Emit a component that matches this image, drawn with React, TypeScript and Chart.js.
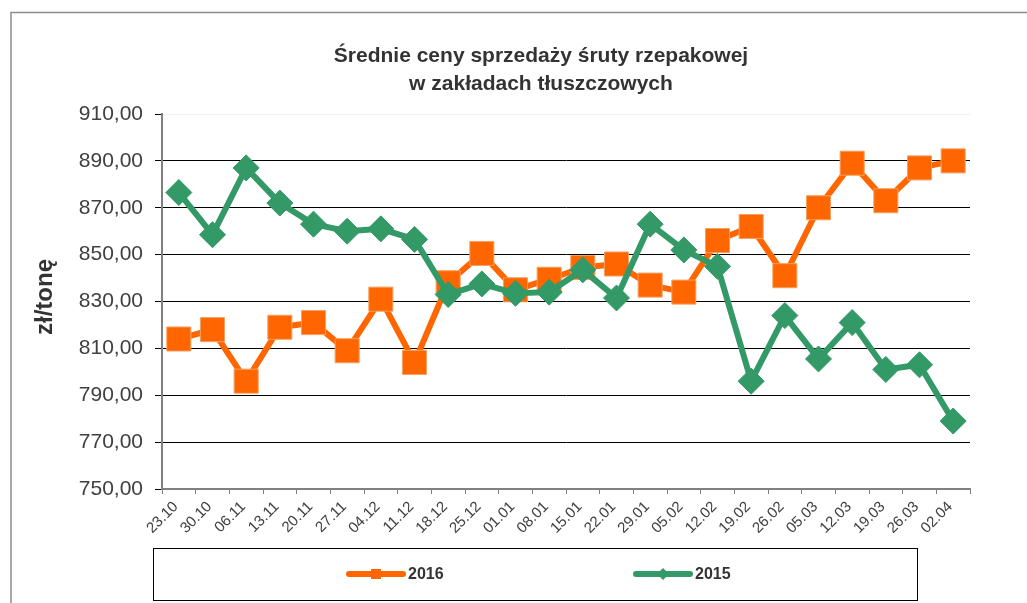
import React, { useEffect, useRef } from 'react';
import { Chart, registerables } from 'chart.js';

Chart.register(...registerables);

const categories = [
  '23.10', '30.10', '06.11', '13.11', '20.11', '27.11', '04.12', '11.12',
  '18.12', '25.12', '01.01', '08.01', '15.01', '22.01', '29.01', '05.02',
  '12.02', '19.02', '26.02', '05.03', '12.03', '19.03', '26.03', '02.04',
];

const seriesNames = ['2016', '2015'];

const values2016 = [
  814, 818, 796, 819, 821, 809, 831, 804,
  838, 850.5, 835, 839.5, 844.5, 846, 837, 834,
  856, 862, 841, 870, 889, 873, 887, 890,
];

const values2015 = [
  876.5, 858.5, 887, 872, 863, 860, 861, 856.5,
  833, 837.5, 833.5, 834, 843.5, 831.5, 863, 852,
  845, 796, 824, 805.5, 821, 801, 803, 779,
];

const yMin = 750;
const yMax = 910;
const yStep = 20;

const titleLines = ['Średnie ceny sprzedaży śruty rzepakowej', 'w zakładach tłuszczowych'];
const yAxisTitle = 'zł/tonę';

const ORANGE = '#FF6600';
const GREEN = '#339966';
const FONT = '"Liberation Sans", Arial, sans-serif';

export default function App() {
  const ref = useRef<HTMLCanvasElement>(null);

  useEffect(() => {
    if (!ref.current) return;

    const decor = {
      id: 'decor',
      beforeDraw(chart: any) {
        const ctx = chart.ctx as CanvasRenderingContext2D;
        ctx.save();
        ctx.fillStyle = '#ffffff';
        ctx.fillRect(0, 0, chart.width, chart.height);
        // outer frame
        ctx.strokeStyle = '#8c8c8c';
        ctx.lineWidth = 1.5;
        ctx.beginPath();
        ctx.moveTo(11, 603);
        ctx.lineTo(11, 12.5);
        ctx.lineTo(1027, 12.5);
        ctx.stroke();
        // title
        ctx.fillStyle = '#333333';
        ctx.textAlign = 'center';
        ctx.textBaseline = 'middle';
        ctx.font = `bold 21px ${FONT}`;
        ctx.fillText(titleLines[0], 541, 56);
        ctx.fillText(titleLines[1], 541, 84);
        // y axis title
        ctx.translate(45, 297);
        ctx.rotate(-Math.PI / 2);
        ctx.font = `bold 24px ${FONT}`;
        ctx.fillText(yAxisTitle, 0, 0);
        ctx.restore();
      },
      afterDraw(chart: any) {
        const ctx = chart.ctx as CanvasRenderingContext2D;
        ctx.save();
        // legend box
        ctx.strokeStyle = '#000000';
        ctx.lineWidth = 1;
        ctx.strokeRect(153.5, 548.5, 764, 52);
        const items = [
          { x: 349, ds: chart.data.datasets[0] },
          { x: 636, ds: chart.data.datasets[1] },
        ];
        const cy = 574;
        items.forEach(({ x, ds }) => {
          ctx.strokeStyle = ds.borderColor;
          ctx.lineWidth = 6;
          ctx.lineCap = 'round';
          ctx.beginPath();
          ctx.moveTo(x, cy);
          ctx.lineTo(x + 54, cy);
          ctx.stroke();
          ctx.fillStyle = ds.pointBackgroundColor;
          const mx = x + 27;
          if (ds.pointStyle === 'rect') {
            ctx.fillRect(mx - 5, cy - 5, 10, 10);
          } else {
            ctx.beginPath();
            ctx.moveTo(mx, cy - 6);
            ctx.lineTo(mx + 6, cy);
            ctx.lineTo(mx, cy + 6);
            ctx.lineTo(mx - 6, cy);
            ctx.closePath();
            ctx.fill();
          }
          ctx.fillStyle = '#333333';
          ctx.font = `bold 16px ${FONT}`;
          ctx.textAlign = 'left';
          ctx.textBaseline = 'middle';
          ctx.fillText(ds.label, x + 59, cy + 1);
        });
        ctx.restore();
      },
    };

    const chart = new Chart(ref.current, {
      type: 'line',
      data: {
        labels: categories,
        datasets: [
          {
            label: seriesNames[0],
            data: values2016,
            borderColor: ORANGE,
            backgroundColor: ORANGE,
            borderWidth: 6,
            borderJoinStyle: 'round',
            pointStyle: 'rect',
            pointRadius: 17,
            pointBackgroundColor: ORANGE,
            pointBorderColor: '#F4A060',
            pointBorderWidth: 1,
            order: 1,
            clip: false,
          } as any,
          {
            label: seriesNames[1],
            data: values2015,
            borderColor: GREEN,
            backgroundColor: GREEN,
            borderWidth: 6,
            borderJoinStyle: 'round',
            pointStyle: 'rectRot',
            pointRadius: 13,
            pointBackgroundColor: GREEN,
            pointBorderColor: GREEN,
            pointBorderWidth: 1,
            order: 0,
            clip: false,
          } as any,
        ],
      },
      options: {
        responsive: false,
        animation: false,
        devicePixelRatio: 1,
        events: [],
        layout: { padding: { left: 0, right: 57, top: 114, bottom: 0 } },
        plugins: {
          legend: { display: false },
          title: { display: false },
          tooltip: { enabled: false },
        },
        scales: {
          x: {
            type: 'category',
            offset: true,
            grid: {
              display: true,
              drawOnChartArea: false,
              drawTicks: true,
              tickLength: 5,
              color: '#808080',
              offset: true,
            },
            border: { color: '#808080', width: 2 },
            ticks: {
              autoSkip: false,
              maxRotation: 45,
              minRotation: 45,
              padding: 4,
              labelOffset: -3,
              color: '#404040',
              font: { family: FONT, size: 15 },
            },
            afterFit: (s: any) => {
              s.height = 114;
            },
          },
          y: {
            min: yMin,
            max: yMax,
            ticks: {
              stepSize: yStep,
              padding: 12,
              color: '#404040',
              font: { family: FONT, size: 21 },
              callback: (v: any) => Number(v).toFixed(2).replace('.', ','),
            },
            grid: {
              color: (c: any) =>
                c.tick && c.tick.value === yMax ? '#f0f0f0' : c.tick && c.tick.value === yMin ? '#808080' : '#000000',
              tickColor: '#000000',
              tickLength: 7,
              lineWidth: 1,
            },
            border: { color: '#808080', width: 2 },
            afterFit: (s: any) => {
              s.width = 162;
            },
          },
        },
      } as any,
      plugins: [decor],
    });

    return () => chart.destroy();
  }, []);

  return (
    <div style={{ position: 'absolute', left: 0, top: 0, width: 1027, height: 603, background: '#fff' }}>
      <canvas ref={ref} width={1027} height={603} style={{ display: 'block', width: 1027, height: 603 }} />
    </div>
  );
}
